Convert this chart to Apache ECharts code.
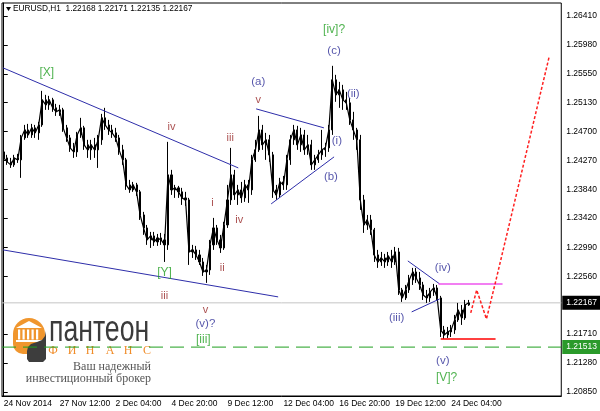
<!DOCTYPE html>
<html><head><meta charset="utf-8">
<script src="https://cdn.jsdelivr.net/npm/echarts@6/dist/echarts.min.js"></script>
<style>html,body{margin:0;padding:0;background:#fff}#c{width:600px;height:411px}</style>
</head><body><div id="c"></div>
<script>
// ---------- data ----------
const symbolName = 'EURUSD,H1';
const quote = [1.22168, 1.22171, 1.22135, 1.22167];
const tickLabels = ['24 Nov 2014','27 Nov 12:00','2 Dec 04:00','4 Dec 20:00','9 Dec 12:00','12 Dec 04:00','16 Dec 20:00','19 Dec 12:00','24 Dec 04:00'];
const tickStep = 16;          // one label every 16 four-hour slots
const slotCount = 160;        // visible slots incl. right-hand empty space
const priceTicks = [1.26410,1.25980,1.25550,1.25130,1.24700,1.24270,1.23840,1.23420,1.22990,1.22560,1.21710,1.21280,1.20850];
const priceMin = 1.2079, priceMax = 1.2660;
const lastPrice = 1.22167;
const targetLevel = 1.21513;

// [open, close, lowest, highest] per 4h slot
const candles = [
[1.24399,1.24310,1.24281,1.24429],[1.24310,1.24251,1.24207,1.24355],[1.24251,1.24207,1.24162,1.24310],[1.24207,1.24310,1.24177,1.24355],
[1.24310,1.24281,1.24236,1.24370],[1.24281,1.24606,1.24015,1.24650],[1.24606,1.24724,1.24577,1.24798],[1.24724,1.24650,1.24606,1.24813],
[1.24650,1.24754,1.24606,1.24813],[1.24754,1.24680,1.24606,1.24798],[1.24680,1.24798,1.24577,1.24843],[1.24798,1.25168,1.24769,1.25301],
[1.25168,1.25094,1.25020,1.25242],[1.25094,1.25168,1.25020,1.25227],[1.25168,1.25050,1.24991,1.25198],[1.25050,1.24991,1.24931,1.25109],
[1.24991,1.25020,1.24931,1.25094],[1.25020,1.24754,1.24695,1.25050],[1.24754,1.24606,1.24547,1.24798],[1.24606,1.24458,1.24399,1.24650],
[1.24458,1.24399,1.24310,1.24532],[1.24399,1.24650,1.24325,1.24695],[1.24650,1.24754,1.24606,1.24902],[1.24754,1.24503,1.24429,1.24784],
[1.24503,1.24429,1.24310,1.24577],[1.24429,1.24503,1.24281,1.24577],[1.24503,1.24429,1.24310,1.24606],[1.24429,1.24577,1.24162,1.24650],
[1.24577,1.24902,1.24503,1.24961],[1.24902,1.24798,1.24724,1.25050],[1.24798,1.24724,1.24650,1.24872],[1.24724,1.24680,1.24606,1.24798],
[1.24680,1.24606,1.24547,1.24754],[1.24606,1.24429,1.24355,1.24650],[1.24429,1.24281,1.24207,1.24503],[1.24281,1.23911,1.23837,1.24310],
[1.23911,1.23837,1.23793,1.23985],[1.23837,1.23911,1.23808,1.23955],[1.23911,1.23808,1.23748,1.23941],[1.23808,1.23467,1.23393,1.23837],
[1.23467,1.23275,1.23172,1.23512],[1.23275,1.23098,1.23024,1.23319],[1.23098,1.23157,1.22979,1.23216],[1.23157,1.23068,1.23009,1.23216],
[1.23068,1.23127,1.23009,1.23186],[1.23127,1.23098,1.23024,1.23201],[1.23098,1.23024,1.22772,1.23186],[1.23024,1.24059,1.22950,1.24547],
[1.24059,1.23837,1.23763,1.24133],[1.23837,1.23867,1.23719,1.23911],[1.23867,1.23808,1.23719,1.23896],[1.23808,1.23719,1.23615,1.23867],
[1.23719,1.23689,1.23601,1.23808],[1.23689,1.22920,1.22728,1.23719],[1.22920,1.22950,1.22831,1.23024],[1.22950,1.22876,1.22802,1.23009],
[1.22876,1.22772,1.22728,1.22950],[1.22772,1.22624,1.22565,1.22831],[1.22624,1.22654,1.22462,1.22728],[1.22654,1.23024,1.22580,1.23098],
[1.23024,1.23275,1.22950,1.23423],[1.23275,1.23098,1.23024,1.23319],[1.23098,1.22979,1.22905,1.23172],[1.22979,1.23319,1.22950,1.23364],
[1.23319,1.23689,1.23275,1.23911],[1.23689,1.24059,1.23615,1.24458],[1.24059,1.23763,1.23689,1.24133],[1.23763,1.23837,1.23615,1.23911],
[1.23837,1.23719,1.23645,1.23955],[1.23719,1.23911,1.23660,1.23985],[1.23911,1.23837,1.23645,1.23985],[1.23837,1.24281,1.23763,1.24355],
[1.24281,1.24429,1.24251,1.24577],[1.24429,1.24724,1.24399,1.24931],[1.24724,1.24503,1.24429,1.24798],[1.24503,1.24577,1.24281,1.24680],
[1.24577,1.24355,1.24251,1.24650],[1.24355,1.23837,1.23719,1.24399],[1.23837,1.23763,1.23689,1.23911],[1.23763,1.23955,1.23719,1.24015],
[1.23955,1.23911,1.23837,1.24044],[1.23911,1.24281,1.23837,1.24355],[1.24281,1.24577,1.24207,1.24650],[1.24577,1.24724,1.24503,1.24798],
[1.24724,1.24503,1.24429,1.24784],[1.24503,1.24650,1.24399,1.24754],[1.24650,1.24429,1.24355,1.24724],[1.24429,1.24503,1.24355,1.24650],
[1.24503,1.24207,1.24133,1.24577],[1.24207,1.24281,1.24133,1.24355],[1.24281,1.24355,1.24236,1.24429],[1.24355,1.24429,1.24281,1.24724],
[1.24429,1.24458,1.24325,1.24532],[1.24458,1.24724,1.24399,1.24798],[1.24724,1.25464,1.24650,1.25671],[1.25464,1.25242,1.25139,1.25538],
[1.25242,1.25316,1.25050,1.25434],[1.25316,1.25168,1.25020,1.25390],[1.25168,1.25124,1.25020,1.25286],[1.25124,1.24872,1.24798,1.25198],
[1.24872,1.24724,1.24577,1.24991],[1.24724,1.24577,1.24429,1.24754],[1.24577,1.23689,1.23541,1.24650],[1.23689,1.23319,1.23201,1.23763],
[1.23319,1.23393,1.23246,1.23467],[1.23393,1.23246,1.23172,1.23467],[1.23246,1.22876,1.22772,1.23275],[1.22876,1.22772,1.22684,1.22950],
[1.22772,1.22831,1.22713,1.22920],[1.22831,1.22772,1.22684,1.22891],[1.22772,1.22861,1.22713,1.22920],[1.22861,1.22772,1.22684,1.22950],
[1.22772,1.22920,1.22728,1.22994],[1.22920,1.22358,1.22284,1.22979],[1.22358,1.22240,1.22181,1.22388],[1.22240,1.22358,1.22210,1.22432],
[1.22358,1.22506,1.22314,1.22580],[1.22506,1.22624,1.22432,1.22684],[1.22624,1.22536,1.22462,1.22684],[1.22536,1.22432,1.22358,1.22624],
[1.22432,1.22284,1.22210,1.22477],[1.22284,1.22240,1.22166,1.22358],[1.22240,1.22329,1.22181,1.22388],[1.22329,1.22388,1.22270,1.22447],
[1.22388,1.22240,1.22210,1.22432],[1.22240,1.21767,1.21663,1.22270],[1.21767,1.21693,1.21634,1.21826],[1.21693,1.21737,1.21648,1.21811],
[1.21737,1.21767,1.21663,1.21841],[1.21767,1.21915,1.21708,1.21989],[1.21915,1.22062,1.21885,1.22166],[1.22062,1.21944,1.21841,1.22136],
[1.21944,1.22136,1.21915,1.22210],[1.22136,1.22167,1.22122,1.22210]
];

// Elliott wave labels (slot position, price)
const waveText   = ['[X]','iv','[Y]','iii','v','(v)?','[iii]','i','ii','iii','iv','v','(a)','(b)','(i)','(c)','[iv]?','(ii)','(iii)','(iv)','(v)','[V]?'];
const waveX      = [12.3,48,46,46,57.7,57.7,57.1,59.7,62.5,64.8,67.4,72.8,72.8,93.6,95.3,94.5,94.5,100.0,112.4,125.6,125.6,126.7];
const waveY      = [1.25567,1.24769,1.22610,1.22270,1.22062,1.21855,1.21618,1.23645,1.22684,1.24606,1.23393,1.25168,1.25434,1.24030,1.24562,1.25893,1.26203,1.25257,1.21944,1.22684,1.21308,1.21056];
const waveDegree = ['g','r','g','r','r','b','g','r','r','r','r','r','b','b','b','b','g','b','b','b','b','g'];

// drawn lines (slot position, price)
const channelUpper  = [[-0.2,1.25641],[67.1,1.24162]];
const channelLower  = [[-0.2,1.22950],[78.5,1.22255]];
const triangleUpper = [[72.2,1.25035],[91.6,1.24754]];
const triangleLower = [[76.5,1.23630],[94.5,1.24325]];
const wedgeUpper    = [[115.6,1.22787],[124.7,1.22447]];
const wedgeLower    = [[116.7,1.22033],[124.7,1.22225]];
const resistance    = [[124.4,1.22447],[142.7,1.22447]];
const supportLow    = [[125.0,1.21634],[140.7,1.21634]];
const forecastPath  = [[133.6,1.22018],[135.3,1.22358],[138.1,1.21929],[140.7,1.22477],[156.1,1.25819]];

// ---------- categories (4h slots, weekends skipped) ----------
const MON = ['Jan','Feb','Mar','Apr','May','Jun','Jul','Aug','Sep','Oct','Nov','Dec'];
const categories = [];
(function () {
  let t = Date.UTC(2014, 10, 24, 20);
  while (categories.length < slotCount) {
    const d = new Date(t), wd = d.getUTCDay();
    if (wd !== 0 && wd !== 6) categories.push(d.getUTCDate() + ' ' + MON[d.getUTCMonth()] + ' ' + String(d.getUTCHours()).padStart(2, '0') + ':00');
    t += 4 * 3600e3;
  }
})();

const FONT = 'Liberation Sans';
const degreeColor = { g: '#25a025', r: '#962424', b: '#2c2c96' };
const degreeSize  = { g: 12, r: 11, b: 11.5 };
const BLUE = '#2e2eaa';
const xLo = -0.5, xHi = slotCount - 0.5;

function seg(data, color, type, width, z) {
  return { type: 'line', xAxisIndex: 1, yAxisIndex: 0, data: data, symbol: 'none', silent: true,
    z: z || 4, lineStyle: { color: color, width: width || 1, type: type || 'solid' } };
}
function level(price, color, type, boxColor) {
  const s = seg([[xLo, price], [xHi, price]], color, type, 1, 1);
  s.clip = false;
  s.endLabel = { show: true, formatter: price.toFixed(5), distance: 1, color: '#fff', backgroundColor: boxColor,
    padding: [3, 4, 2, 4], fontSize: 8.5, fontFamily: FONT };
  return s;
}

const isTick = (i) => i % tickStep === 0 && i / tickStep < tickLabels.length;
const serifLetter = (ch, x) => ({ type: 'text', x: x, y: 351, style: { text: ch, fontSize: 12, fontFamily: 'Liberation Serif', fill: '#f08c28', align: 'center', verticalAlign: 'middle' } });

const chart = echarts.init(document.getElementById('c'), null, { renderer: 'canvas' });
chart.setOption({
  animation: false,
  backgroundColor: '#fff',
  grid: { left: 2, right: 37, top: 3, bottom: 15, show: true, borderColor: '#000', borderWidth: 1, backgroundColor: '#fff' },
  xAxis: [
    { type: 'category', data: categories, boundaryGap: true,
      axisLine: { lineStyle: { color: '#000', width: 1 } },
      axisTick: { alignWithLabel: true, interval: (i) => isTick(i), length: 4, lineStyle: { color: '#000' } },
      axisLabel: { interval: (i) => isTick(i), formatter: (v, i) => tickLabels[i / tickStep], align: 'left',
        fontSize: 8.5, fontFamily: FONT, color: '#000', margin: 3 },
      splitLine: { show: false } },
    { type: 'value', min: xLo, max: xHi, show: false }
  ],
  yAxis: [{ type: 'value', position: 'right', min: priceMin, max: priceMax,
    axisLine: { show: true, lineStyle: { color: '#000' } },
    axisTick: { show: true, length: 4, customValues: priceTicks, lineStyle: { color: '#000' } },
    axisLabel: { customValues: priceTicks, formatter: (v) => v.toFixed(5), fontSize: 8.5, fontFamily: FONT, color: '#000', margin: 5 },
    splitLine: { show: false } }],
  graphic: [
    { type: 'polygon', shape: { points: [[6, 7], [11, 7], [8.5, 11]] }, style: { fill: '#000' }, z: 100 },
    { type: 'text', x: 13, y: 9, z: 100, style: { text: symbolName + '  ' + quote.map(q => q.toFixed(5)).join(' '),
      fontSize: 8.3, fontFamily: FONT, fill: '#000', verticalAlign: 'middle' } },
    // logo
    { type: 'group', z: 100, children: [
      { type: 'rect', shape: { x: 13, y: 318, width: 32, height: 36, r: [16, 16, 3, 10] }, style: { fill: '#f0962e' } },
      { type: 'polygon', shape: { points: [[16, 328], [29, 321], [42, 328]] }, style: { fill: '#fff' } },
      { type: 'rect', shape: { x: 18, y: 329.5, width: 2.2, height: 10 }, style: { fill: '#fff' } },
      { type: 'rect', shape: { x: 22.5, y: 329.5, width: 2.2, height: 10 }, style: { fill: '#fff' } },
      { type: 'rect', shape: { x: 27, y: 329.5, width: 2.2, height: 10 }, style: { fill: '#fff' } },
      { type: 'rect', shape: { x: 31.5, y: 329.5, width: 2.2, height: 10 }, style: { fill: '#fff' } },
      { type: 'rect', shape: { x: 36, y: 329.5, width: 2.2, height: 10 }, style: { fill: '#fff' } },
      { type: 'rect', shape: { x: 16, y: 340, width: 26, height: 2 }, style: { fill: '#fff' } },
      { type: 'polygon', shape: { points: [[46, 331], [45, 336], [42, 340], [37, 342], [31, 344], [28, 347], [27, 351], [27, 359], [29, 362], [43, 362], [46, 359]] }, style: { fill: '#3d3d3d' } },
      { type: 'text', x: 49, y: 331, scaleX: 0.74, style: { text: 'пантеон', fontSize: 36, fontFamily: FONT, fill: '#3b3b3b', verticalAlign: 'middle' } },
      serifLetter('Ф', 53), serifLetter('И', 72), serifLetter('Н', 90), serifLetter('А', 110), serifLetter('Н', 128), serifLetter('С', 147),
      { type: 'text', x: 151, y: 366.5, style: { text: 'Ваш надежный', fontSize: 12, fontFamily: 'Liberation Serif', fill: '#555', align: 'right', verticalAlign: 'middle' } },
      { type: 'text', x: 151, y: 378.5, style: { text: 'инвестиционный брокер', fontSize: 12, fontFamily: 'Liberation Serif', fill: '#555', align: 'right', verticalAlign: 'middle' } }
    ] }
  ],
  series: [
    level(lastPrice, '#c4c4c4', 'solid', '#000'),
    level(targetLevel, '#1f9f1f', [14, 7], '#2a9a2a'),
    { type: 'candlestick', xAxisIndex: 0, yAxisIndex: 0, data: candles, z: 3, barWidth: 1.6, silent: true,
      itemStyle: { color: '#000', color0: '#000', borderColor: '#000', borderColor0: '#000', borderWidth: 1 } },
    { type: 'line', xAxisIndex: 0, yAxisIndex: 0, data: candles.map(c => c[1]), z: 3, symbol: 'none', silent: true,
      lineStyle: { color: '#000', width: 1.2 } },
    seg(channelUpper, BLUE), seg(channelLower, BLUE), seg(triangleUpper, BLUE), seg(triangleLower, BLUE),
    seg(wedgeUpper, BLUE), seg(wedgeLower, BLUE),
    seg(resistance, '#ee55ee', 'solid', 1.5), seg(supportLow, '#ff0000', 'solid', 1.5),
    seg(forecastPath, '#ff2020', [3, 2], 1.5),
    { type: 'scatter', xAxisIndex: 1, yAxisIndex: 0, symbol: 'circle', symbolSize: 1, z: 6, silent: true,
      itemStyle: { color: 'rgba(0,0,0,0)' },
      label: { show: true, position: 'inside', formatter: (p) => p.name, fontFamily: FONT },
      data: waveText.map((t, k) => ({ value: [waveX[k], waveY[k]], name: t,
        label: { color: degreeColor[waveDegree[k]], fontSize: degreeSize[waveDegree[k]] } })) }
  ]
});
</script></body></html>
